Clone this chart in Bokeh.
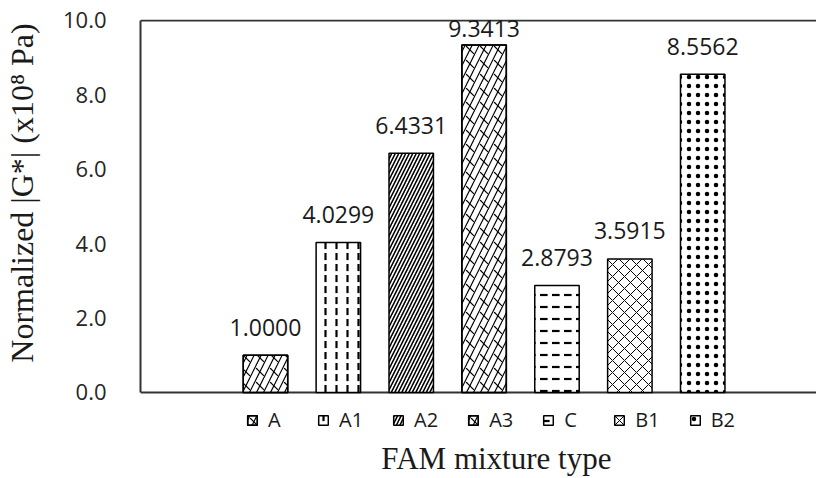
import math
from bokeh.plotting import figure
from bokeh.models import (Range1d, FixedTicker, Legend, LegendItem, Label,
                          ColumnDataSource, NumeralTickFormatter)
from bokeh.core.properties import value
from bokeh.embed import file_html
from bokeh.resources import INLINE

# ---- data ----
categories = ["A", "A1", "A2", "A3", "C", "B1", "B2"]
values = [1.0000, 4.0299, 6.4331, 9.3413, 2.8793, 3.5915, 8.5562]
value_labels = ["1.0000", "4.0299", "6.4331", "9.3413", "2.8793", "3.5915", "8.5562"]
y_ticks = [0, 2, 4, 6, 8, 10]
x_title = "FAM mixture type"
y_title = "Normalized |G*| (x10\u2078 Pa)"

# ---- styles per category ----
styles = {
    "A":  [dict(hatch_pattern="/", hatch_scale=14, hatch_weight=1.2),
           dict(hatch_pattern="`", hatch_scale=14, hatch_weight=1.2)],
    "A1": [dict(hatch_pattern=":", hatch_scale=11, hatch_weight=2.2)],
    "A2": [dict(hatch_pattern="/", hatch_scale=7, hatch_weight=1.6)],
    "A3": [dict(hatch_pattern="/", hatch_scale=14, hatch_weight=1.2),
           dict(hatch_pattern="`", hatch_scale=14, hatch_weight=1.2)],
    "C":  [dict(hatch_pattern='"', hatch_scale=12, hatch_weight=2.2)],
    "B1": [dict(hatch_pattern="x", hatch_scale=12, hatch_weight=1.0)],
    "B2": [dict(hatch_pattern=".", hatch_scale=9, hatch_weight=0.7)],
}

AXIS_COLOR = "#333333"
TEXT_COLOR = "#1a1a1a"

Y_TOP = 10 + 1 / 37.2   # one pixel of headroom so the top border is fully visible
x_range = Range1d(-1.715, 7.575)
p = figure(frame_width=677, frame_height=459, output_backend="svg",
           toolbar_location=None,
           x_range=x_range, y_range=Range1d(-2.312, Y_TOP),
           min_border_left=139, min_border_right=0, min_border_top=19,
           min_border_bottom=0, outline_line_color=None)
p.xgrid.visible = False
p.ygrid.visible = False
p.xaxis.visible = False

# y axis
p.yaxis.bounds = (0, 10)
p.yaxis.ticker = FixedTicker(ticks=y_ticks)
p.yaxis.formatter = NumeralTickFormatter(format="0.0")
p.yaxis.major_tick_line_color = None
p.yaxis.minor_tick_line_color = None
p.yaxis.axis_line_width = 2
p.yaxis.axis_line_color = AXIS_COLOR
p.yaxis.major_label_standoff = 28
p.yaxis.major_label_text_font = "Open Sans"
p.yaxis.major_label_text_font_size = "22px"
p.yaxis.major_label_text_color = "#262626"
# leading no-break spaces shift the centred title upward, as in the reference
p.yaxis.axis_label = "\u00a0" * 14 + y_title
p.yaxis.axis_label_text_font = "Liberation Serif"
p.yaxis.axis_label_text_font_style = "normal"
p.yaxis.axis_label_text_font_size = "32px"
p.yaxis.axis_label_text_color = TEXT_COLOR
p.yaxis.axis_label_standoff = 20

# frame lines: bottom (y = 0) and top (y = 10), across the full x range
border_src = ColumnDataSource(dict(x0=[x_range.start, x_range.start],
                                   x1=[x_range.end, x_range.end],
                                   y=[0, 10]))
p.segment(x0="x0", y0="y", x1="x1", y1="y", source=border_src,
          line_color=AXIS_COLOR, line_width=2)

# bars
items = []
xs = list(range(len(categories)))
for i, cat in enumerate(categories):
    src = ColumnDataSource(dict(x=[xs[i]], top=[values[i]]))
    rends = []
    for j, st in enumerate(styles[cat]):
        r = p.vbar(x="x", top="top", bottom=0, width=0.61, source=src,
                   fill_color="white" if j == 0 else None,
                   line_color="black", line_width=1.5,
                   hatch_color="black", **st)
        rends.append(r)
    items.append(LegendItem(label=cat, renderers=rends))

# value labels (the tallest one is pushed down to stay inside the plot area)
y_off = [-28 if v < 9 else -17 for v in values]
lab_src = ColumnDataSource(dict(x=xs, y=values, t=value_labels, yo=y_off))
p.text(x="x", y="y", text="t", source=lab_src, y_offset="yo",
       text_font=value("Open Sans"), text_font_size="23px",
       text_align="center", text_baseline="alphabetic", text_color=TEXT_COLOR)

legend = Legend(items=items, orientation="horizontal", location=(106, 45),
                border_line_color=None, background_fill_alpha=0,
                glyph_width=12, glyph_height=12, label_standoff=10, spacing=29,
                label_text_font="Open Sans", label_text_font_size="20px",
                label_text_color=TEXT_COLOR, padding=0, margin=0)
p.add_layout(legend)

# x axis title
p.add_layout(Label(x=3.168, y=-1.774, text=x_title, text_align="center",
                   text_baseline="alphabetic", text_font="Liberation Serif",
                   text_font_size="31px", text_color=TEXT_COLOR))

open("out.html", "w").write(file_html(p, INLINE))
